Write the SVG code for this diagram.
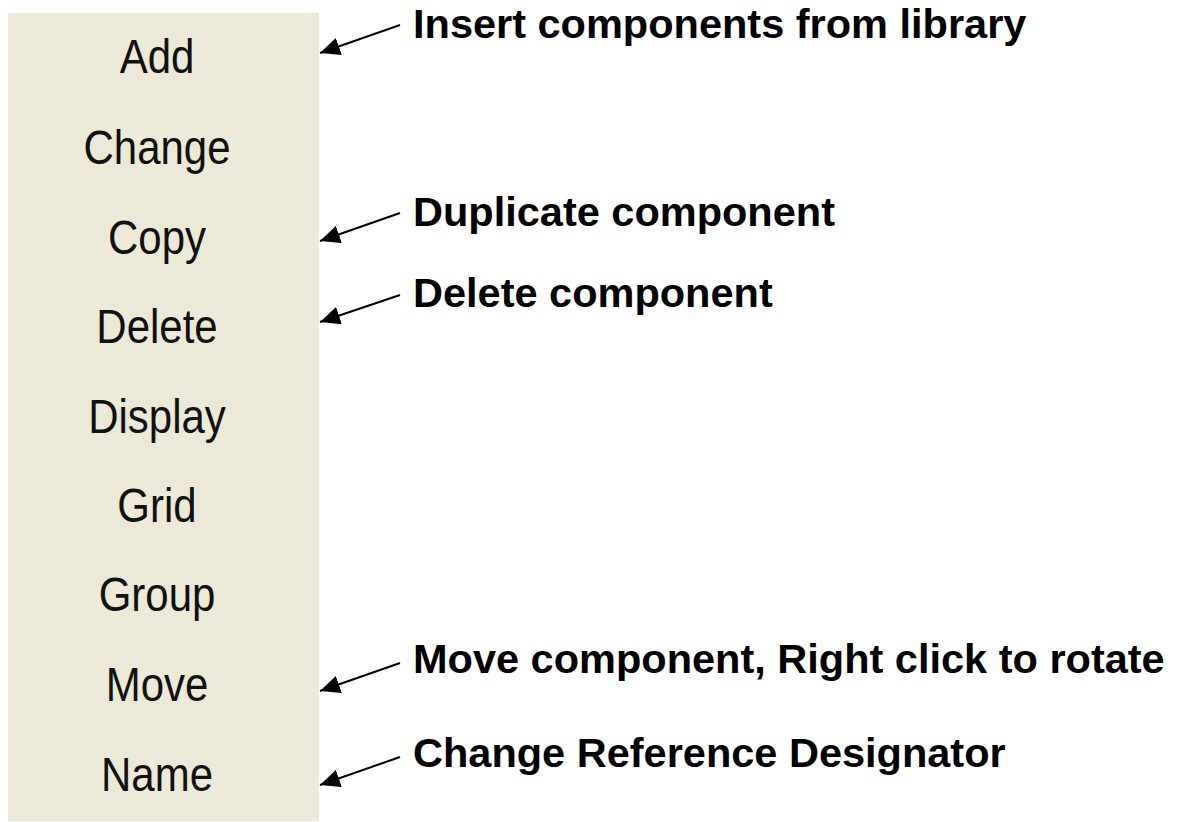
<svg xmlns="http://www.w3.org/2000/svg" width="1177" height="822" viewBox="0 0 1177 822">
<style>
.menu{font-family:"Liberation Sans",Arial,sans-serif;font-size:42px;fill:#111;text-anchor:middle}
.lbl{font-family:"Liberation Sans",Arial,sans-serif;font-size:41.5px;font-weight:bold;fill:#000}
.arr{stroke:#000;stroke-width:2;fill:none;marker-end:url(#ah)}
</style>
<defs>
<marker id="ah" markerUnits="userSpaceOnUse" markerWidth="22" markerHeight="18" refX="20" refY="9" orient="auto">
<path d="M0,0 L20,9 L0,18 Z" fill="#000"/>
</marker>
</defs>
<rect width="1177" height="822" fill="#fff"/>
<g id="panel">
<rect x="8" y="13" width="311" height="808" fill="#ECE9D8"/>
<text class="menu" transform="translate(157,73) scale(1,1.15)">Add</text>
<text class="menu" transform="translate(157,164) scale(1,1.15)">Change</text>
<text class="menu" transform="translate(157,254) scale(1,1.15)">Copy</text>
<text class="menu" transform="translate(157,343) scale(1,1.15)">Delete</text>
<text class="menu" transform="translate(157,433) scale(1,1.15)">Display</text>
<text class="menu" transform="translate(157,522) scale(1,1.15)">Grid</text>
<text class="menu" transform="translate(157,611) scale(1,1.15)">Group</text>
<text class="menu" transform="translate(157,701) scale(1,1.15)">Move</text>
<text class="menu" transform="translate(157,791) scale(1,1.15)">Name</text>
</g>
<g id="label-insert"><text class="lbl" x="413" y="38">Insert components from library</text></g>
<g id="label-duplicate"><text class="lbl" x="413" y="226">Duplicate component</text></g>
<g id="label-delete"><text class="lbl" x="413" y="307">Delete component</text></g>
<g id="label-move"><text class="lbl" x="413" y="673">Move component, Right click to rotate</text></g>
<g id="label-change"><text class="lbl" x="413" y="767">Change Reference Designator</text></g>
<g id="connectors">
<line class="arr" x1="400" y1="25" x2="320" y2="53"/>
<line class="arr" x1="400" y1="213" x2="320" y2="241"/>
<line class="arr" x1="400" y1="295" x2="320" y2="322"/>
<line class="arr" x1="400" y1="663" x2="320" y2="691"/>
<line class="arr" x1="400" y1="757" x2="320" y2="785"/>
</g>
</svg>
